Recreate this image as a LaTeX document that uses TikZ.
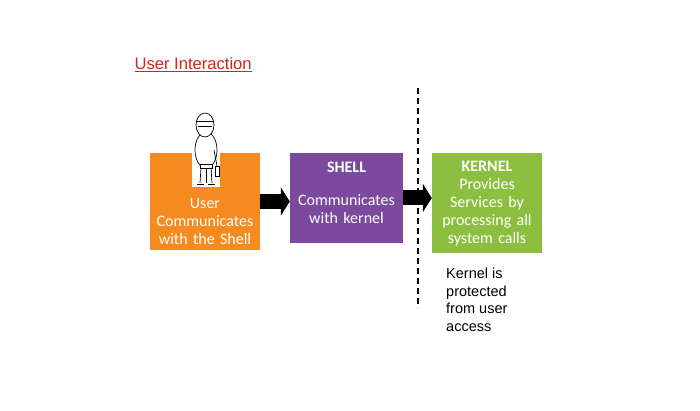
\documentclass[tikz,border=0pt]{standalone}
\usepackage{fontspec}
\setmainfont{Liberation Sans}
\newfontfamily\calfont{Carlito}
\usetikzlibrary{arrows.meta}
\definecolor{org}{HTML}{F58B1F}
\definecolor{pur}{HTML}{7B4A9E}
\definecolor{grn}{HTML}{8CBF3F}
\definecolor{red1}{HTML}{D2231E}
\begin{document}
\begin{tikzpicture}[x=1pt,y=-1pt,
 box/.style={draw=none,minimum height=#1,text width=110pt,align=center,font=\calfont\fontsize{16}{18}\selectfont,text=white,inner sep=0pt},
 bigarr/.style={line width=15pt,-{Triangle[length=9pt,width=28pt]},shorten >=0pt}]
\useasboundingbox (0,0) rectangle (700,411);
\node[anchor=west,text=red1,font=\fontsize{16.6}{18}\selectfont] (title) at (131,65) {\underline{User Interaction}};
\node[box=97pt,minimum width=110pt,fill=org] (user) at (205,201.5) {};
\node[box=90pt,minimum width=113pt,fill=pur] (shell) at (346.5,198) {};
\node[box=100pt,minimum width=108pt,fill=grn] (kernel) at (487,203) {};
\node[box=10pt] (ut) at (205,221) {User\\Communicates\\with the Shell};
\node[box=10pt] (st) at (346.5,167) {\textbf{SHELL}};
\node[box=10pt] (st2) at (346.5,209.5) {Communicates\\with kernel};
\node[box=10pt] (kt) at (487,204) {\textbf{KERNEL}\\Provides\\Services by\\processing all\\system calls};
\draw[bigarr] (user.east) -- (user.east -| shell.west);
\draw[bigarr] (shell.east) -- (shell.east -| kernel.west);
\coordinate (d1) at (418,88); \coordinate (d2) at (418,308);
\draw[line width=1.5pt,dash pattern=on 6pt off 4pt] (d1) -- (d2);
\node[anchor=north west,align=left,inner sep=0pt,font=\fontsize{14.5}{17.5}\selectfont] (note) at (446,268) {Kernel is\\protected\\from user\\access};
% person
\fill[white] (192,153) rectangle (220,187);
\begin{scope}[line width=0.7pt]
\draw[fill=white] (206,150) ellipse (11pt and 18pt);
\draw[fill=white] (205,125) ellipse (9pt and 12pt);
\draw (197,121) -- (213,121);
\draw (198,126) -- (212,126);
\draw[fill=white] (200,164) rectangle (212,168);
\draw (201,168) -- (200,183) (211,168) -- (212,183);
\draw (206,168) -- (206,183);
\draw (197,184) -- (204,184) (208,184) -- (215,184);
\draw[fill=white] (215,166) rectangle (219,176);
\draw (217,166) -- (214,150);
\end{scope}
\end{tikzpicture}
\end{document}
